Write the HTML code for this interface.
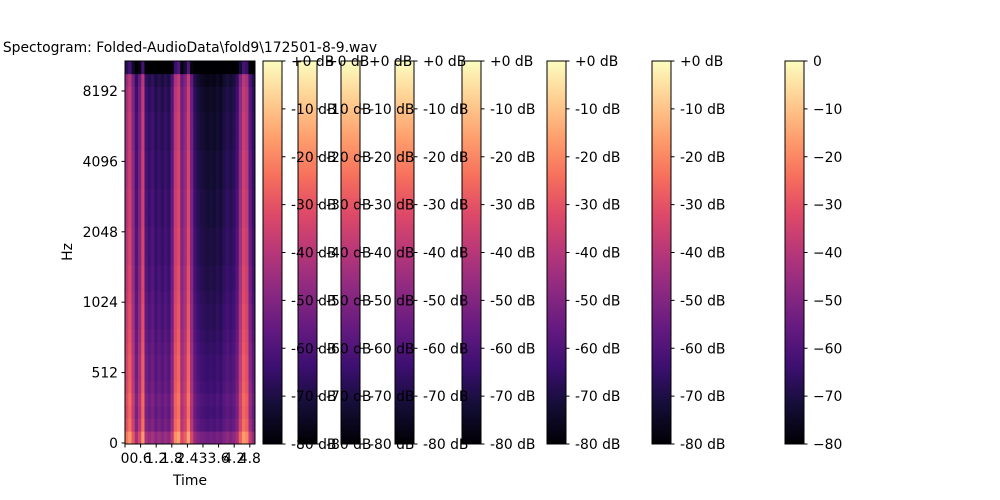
<!DOCTYPE html>
<html><head><meta charset="utf-8">
<style>
html,body{margin:0;padding:0;background:#fff;}
svg{display:block;font-family:"DejaVu Sans","Liberation Sans",sans-serif;}
</style></head>
<body>
<svg id="chart" width="1000" height="500" viewBox="0 0 1000 500" xmlns="http://www.w3.org/2000/svg">
<defs>
<linearGradient id="magma" x1="0" y1="1" x2="0" y2="0">
<stop offset="0" stop-color="#000004"/><stop offset="0.1" stop-color="#140e36"/>
<stop offset="0.2" stop-color="#3b0f70"/><stop offset="0.3" stop-color="#641a80"/>
<stop offset="0.4" stop-color="#8c2981"/><stop offset="0.5" stop-color="#b73779"/>
<stop offset="0.6" stop-color="#de4968"/><stop offset="0.7" stop-color="#f7705c"/>
<stop offset="0.8" stop-color="#fe9f6d"/><stop offset="0.9" stop-color="#fecf92"/>
<stop offset="1" stop-color="#fcfdbf"/>
</linearGradient>
</defs>
<text x="190" y="52" font-size="13.9" text-anchor="middle">Spectogram: Folded-AudioData\fold9\172501-8-9.wav</text>
<text x="0" y="0" font-size="13.9" text-anchor="middle" transform="translate(72,252) rotate(-90)">Hz</text>
<text x="190" y="485" font-size="13.9" text-anchor="middle">Time</text>
<g id="cells"></g>
<g id="axes"></g>
<g id="bars"></g>
<g id="barlabels"></g>
</svg>
<script>
// time profile (dB at mid-frequency), one value per 0.125 s
const timeDB = [-38,-32,-44,-58,-48,-32,-58,-61,-58,-63,-60,-63,-60,-63,-53,-34,-30,-48,-43,-30,-48,-61,-65,-67,-68,-69,-68,-69,-67,-69,-65,-63,-65,-63,-58,-42,-32,-35,-53,-61];
// frequency offset per row (bottom to top)
const freqOffset = [15,8,6,7,5,4,4,3,2,1,1,0,-1,-1,-2,-2,-2,-3,-3,-3,-4,-4,-4,-5,-5,-5,-6,-6,-8,-30];
const xTicks = ["0","0.6","1.2","1.8","2.4","3","3.6","4.2","4.8"];
const xTickVals = [0,0.6,1.2,1.8,2.4,3,3.6,4.2,4.8];
const yTicks = ["0","512","1024","2048","4096","8192"];
const yTickPos = [0,1,2,3,4,5];
const dbTicks = [0,-10,-20,-30,-40,-50,-60,-70,-80];

const NS="http://www.w3.org/2000/svg";
const PL=125,PR=255,PT=61,PB=444;
const tMax=5.0;
const xs=t=>PL+t/tMax*(PR-PL);
const yStep=v=>443-v*70.4;
const dbY=d=>PT+(-d)/80*(PB-PT);
const stops=[[0,0,0,4],[0.1,20,14,54],[0.2,59,15,112],[0.3,100,26,128],[0.4,140,41,129],[0.5,183,55,121],[0.6,222,73,104],[0.7,247,112,92],[0.8,254,159,109],[0.9,254,207,146],[1,252,253,191]];
function magma(v){v=Math.max(0,Math.min(1,v));for(let i=1;i<stops.length;i++){if(v<=stops[i][0]){const a=stops[i-1],b=stops[i],f=(v-a[0])/(b[0]-a[0]);return `rgb(${Math.round(a[1]+f*(b[1]-a[1]))},${Math.round(a[2]+f*(b[2]-a[2]))},${Math.round(a[3]+f*(b[3]-a[3]))})`;}}return "rgb(252,253,191)";}
function el(tag,attrs,parent){const e=document.createElementNS(NS,tag);for(const k in attrs)e.setAttribute(k,attrs[k]);parent.appendChild(e);return e;}

const cells=document.getElementById('cells');
const dt=tMax/timeDB.length, rh=(PB-PT)/freqOffset.length;
timeDB.forEach((d,i)=>{
  freqOffset.forEach((o,j)=>{
    const db=Math.max(-80,Math.min(0,d+o));
    const r=el('rect',{x:xs(i*dt),y:PB-(j+1)*rh,width:(PR-PL)/timeDB.length+0.4,height:rh+0.4,fill:magma((db+80)/80)},cells);
    
    
  });
});

const axes=document.getElementById('axes');
const frame=el('rect',{x:PL,y:PT,width:PR-PL,height:PB-PT,fill:'none',stroke:'#000','stroke-width':1},axes);


xTickVals.forEach((v,i)=>{
  const x=xs(v);
  el('line',{x1:x,x2:x,y1:PB,y2:PB+3.5,stroke:'#000'},axes);
  const t=el('text',{x:x,y:PB+19,'font-size':13.9,'text-anchor':'middle'},axes);
  t.textContent=xTicks[i];
  
  
});
yTickPos.forEach((v,i)=>{
  const y=yStep(v);
  el('line',{x1:PL-3.5,x2:PL,y1:y,y2:y,stroke:'#000'},axes);
  const t=el('text',{x:PL-7,y:y+5,'font-size':13.9,'text-anchor':'end'},axes);
  t.textContent=yTicks[i];
  
  
});

const barLefts=[263,298,341,395,462,547,652,785];
const bars=document.getElementById('bars');
const barLabels=document.getElementById('barlabels');
barLefts.forEach((bx,k)=>{
  const g=el('g',{},bars);
  
  
  el('rect',{x:bx,y:PT,width:19,height:PB-PT,fill:'url(#magma)',stroke:'#000','stroke-width':1},g);
});
barLefts.forEach((bx,k)=>{
  dbTicks.forEach(d=>{
    const y=dbY(d);
    el('line',{x1:bx+19,x2:bx+22.5,y1:y,y2:y,stroke:'#000'},barLabels);
    const t=el('text',{x:bx+28,y:y+5,'font-size':13.9},barLabels);
    const last=k===barLefts.length-1;
    t.textContent= last ? (d===0?'0':'\u2212'+(-d)) : (d===0?'+0 dB':d+' dB');
    
    
  });
});
</script>
</body></html>
